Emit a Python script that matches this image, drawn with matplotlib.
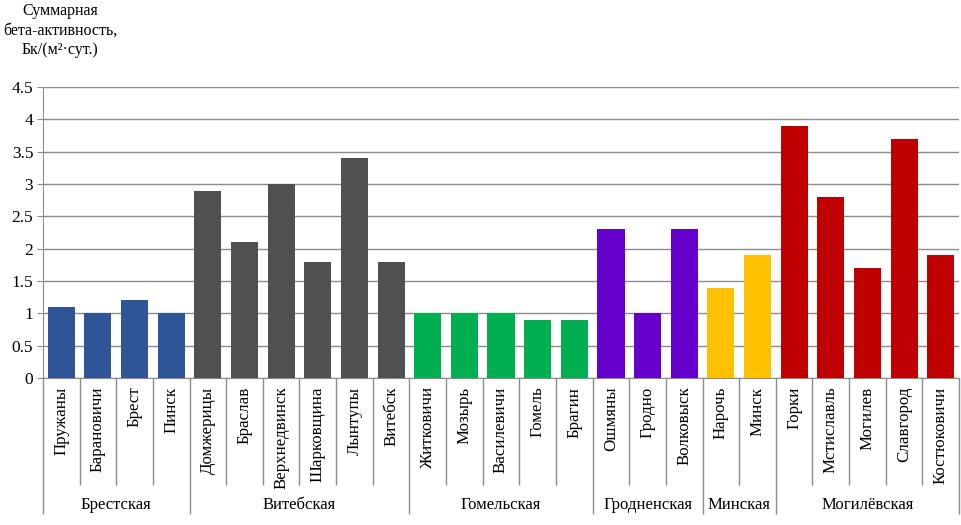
import numpy as np
import matplotlib.pyplot as plt

plt.rcParams['font.family'] = 'serif'
plt.rcParams['font.serif'] = ['Liberation Serif', 'DejaVu Serif']

# данные
regions = ['Брестская', 'Витебская', 'Гомельская', 'Гродненская', 'Минская', 'Могилёвская']
stations = [
    ['Пружаны', 'Барановичи', 'Брест', 'Пинск'],
    ['Домжерицы', 'Браслав', 'Верхнедвинск', 'Шарковщина', 'Лынтупы', 'Витебск'],
    ['Житковичи', 'Мозырь', 'Василевичи', 'Гомель', 'Брагин'],
    ['Ошмяны', 'Гродно', 'Волковыск'],
    ['Нарочь', 'Минск'],
    ['Горки', 'Мстиславль', 'Могилев', 'Славгород', 'Костюковичи'],
]
values = [
    [1.1, 1.0, 1.2, 1.0],
    [2.9, 2.1, 3.0, 1.8, 3.4, 1.8],
    [1.0, 1.0, 1.0, 0.9, 0.9],
    [2.3, 1.0, 2.3],
    [1.4, 1.9],
    [3.9, 2.8, 1.7, 3.7, 1.9],
]
colors = ['#2F5597', '#505050', '#00B050', '#6600CC', '#FFC000', '#C00000']
yticks = [0, 0.5, 1, 1.5, 2, 2.5, 3, 3.5, 4, 4.5]

fig = plt.figure(figsize=(9.61, 5.25), dpi=100)
ax = fig.add_axes([0.0447, 0.28, 0.9533, 0.554])

grid_c = '#8c8c8c'
pos = 0
starts = []
for names, vals, col in zip(stations, values, colors):
    x = np.arange(pos, pos + len(vals))
    ax.bar(x, vals, width=0.74, color=col, zorder=3)
    starts.append(pos)
    pos += len(vals)
n = pos

ax.set_xlim(-0.5, n - 0.5)
ax.set_ylim(0, 4.5)
ax.set_yticks(yticks)
ax.set_yticklabels([f'{t:g}' for t in yticks], fontsize=12.5)
ax.yaxis.grid(True, color=grid_c, linewidth=1)
ax.set_axisbelow(True)
ax.tick_params(axis='y', length=4, color=grid_c, pad=3)
ax.set_xticks([])

for s in ['top', 'right']:
    ax.spines[s].set_visible(False)
for s in ['left', 'bottom']:
    ax.spines[s].set_color(grid_c)

tr = ax.get_xaxis_transform()
all_names = [nm for grp in stations for nm in grp]
for i, nm in enumerate(all_names):
    ax.text(i, -0.03, nm, rotation=90, ha='center', va='top',
            fontsize=12.2, transform=tr)

# разделители категорий и групп
minor_b = [b - 0.5 for b in range(1, n) if b not in starts]
ax.vlines(minor_b, -0.368, 0, transform=tr, colors=grid_c, linewidth=1, clip_on=False)
group_b = [s - 0.5 for s in starts] + [n - 0.5]
ax.vlines(group_b, -0.467, 0, transform=tr, colors=grid_c, linewidth=1, clip_on=False)

for s, grp, reg in zip(starts, stations, regions):
    ax.text(s + (len(grp) - 1) / 2, -0.437, reg, ha='center', va='center',
            fontsize=12, transform=tr)

fig.text(0.0625, 0.995, 'Суммарная\nбета-активность,\nБк/(м²·сут.)', ha='center', va='top',
         fontsize=11.5, linespacing=1.3)

fig.savefig('out.png', dpi=100)
